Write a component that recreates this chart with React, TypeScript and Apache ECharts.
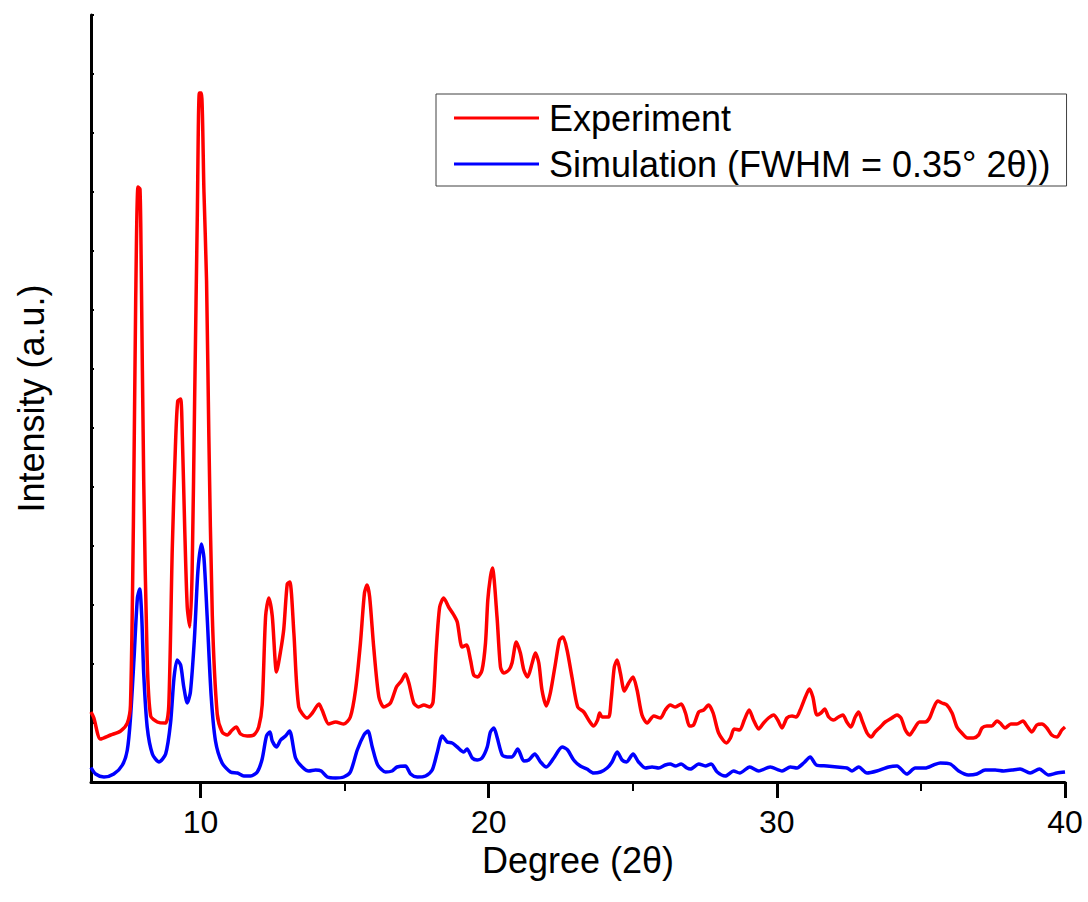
import React, { useEffect, useRef } from "react";
import * as echarts from "echarts";

const FONT = "'Liberation Sans', Arial, Helvetica, sans-serif";

const xMajorTicks = [10, 20, 30, 40];
const xMinorTicks = [15, 25, 35];
const legendNames = ["Experiment", "Simulation (FWHM = 0.35° 2θ))"];

// [2θ (deg), intensity (a.u.)]
const experiment = [
  [6.2, 70], [6.3, 64], [6.53, 43], [6.88, 47], [7.23, 51], [7.46, 59], [7.57, 77], [7.67, 256], [7.75, 479], [7.83, 595],
  [7.9, 593], [7.94, 523], [8.03, 300], [8.15, 122], [8.27, 66], [8.5, 60], [8.79, 59], [8.9, 77], [9.02, 233], [9.13, 336],
  [9.21, 381], [9.31, 383], [9.37, 345], [9.45, 256], [9.54, 175], [9.63, 155], [9.71, 211], [9.8, 390], [9.89, 568], [9.96, 689],
  [10.03, 689], [10.12, 590], [10.21, 501], [10.29, 345], [10.41, 166], [10.58, 68], [10.75, 50], [10.93, 47], [11.1, 52], [11.24, 55],
  [11.39, 48], [11.62, 46], [11.85, 47], [12.02, 55], [12.14, 77], [12.26, 166], [12.37, 184], [12.49, 166], [12.64, 110], [12.78, 131],
  [12.89, 153], [13.01, 198], [13.1, 200], [13.24, 149], [13.41, 75], [13.7, 64], [13.88, 69], [14.11, 78], [14.22, 72], [14.45, 58],
  [14.69, 60], [14.97, 58], [15.2, 65], [15.38, 92], [15.55, 139], [15.69, 189], [15.78, 197], [15.87, 185], [16.01, 135], [16.19, 85],
  [16.36, 75], [16.59, 79], [16.8, 95], [16.97, 101], [17.11, 108], [17.23, 99], [17.4, 79], [17.57, 75], [17.75, 77], [17.96, 75],
  [18.07, 80], [18.18, 132], [18.3, 175], [18.44, 184], [18.61, 175], [18.79, 167], [18.91, 160], [19.08, 135], [19.23, 137], [19.37, 122],
  [19.48, 107], [19.62, 105], [19.77, 112], [19.89, 139], [19.97, 182], [20.06, 205], [20.13, 214], [20.29, 165], [20.41, 115], [20.52, 109],
  [20.7, 112], [20.81, 119], [20.96, 140], [21.1, 129], [21.22, 112], [21.35, 105], [21.51, 119], [21.62, 129], [21.74, 119], [21.85, 92],
  [22.0, 76], [22.14, 89], [22.32, 119], [22.46, 142], [22.58, 145], [22.72, 132], [22.89, 105], [23.09, 75], [23.3, 70], [23.47, 62],
  [23.64, 56], [23.78, 62], [23.85, 69], [23.94, 65], [24.16, 65], [24.25, 82], [24.36, 115], [24.46, 122], [24.57, 109], [24.71, 91],
  [24.86, 99], [25.01, 105], [25.15, 92], [25.32, 67], [25.5, 59], [25.73, 66], [25.96, 64], [26.13, 72], [26.3, 77], [26.48, 75],
  [26.68, 78], [26.83, 69], [26.97, 56], [27.11, 57], [27.29, 70], [27.46, 72], [27.63, 77], [27.79, 69], [27.98, 49], [28.25, 39],
  [28.39, 44], [28.52, 53], [28.71, 52], [28.87, 62], [29.04, 72], [29.19, 62], [29.37, 53], [29.54, 59], [29.71, 64], [29.89, 67],
  [30.03, 62], [30.18, 54], [30.35, 64], [30.53, 66], [30.68, 65], [30.81, 72], [30.99, 85], [31.13, 93], [31.25, 85], [31.39, 67],
  [31.53, 69], [31.66, 73], [31.8, 65], [31.97, 62], [32.14, 65], [32.29, 67], [32.43, 60], [32.57, 55], [32.72, 65], [32.84, 70],
  [32.95, 62], [33.13, 49], [33.27, 45], [33.41, 50], [33.59, 55], [33.76, 60], [33.99, 64], [34.17, 67], [34.31, 64], [34.46, 52],
  [34.61, 47], [34.74, 52], [34.95, 60], [35.15, 60], [35.3, 64], [35.44, 74], [35.58, 81], [35.73, 79], [35.9, 77], [36.08, 69],
  [36.25, 55], [36.42, 49], [36.62, 44], [36.82, 44], [37.0, 47], [37.12, 54], [37.29, 56], [37.46, 56], [37.64, 61], [37.75, 59],
  [37.92, 54], [38.12, 58], [38.33, 58], [38.54, 61], [38.68, 56], [38.85, 50], [39.02, 57], [39.2, 58], [39.37, 54], [39.54, 47],
  [39.72, 45], [39.89, 52], [40.0, 55],
];

const simulation = [
  [6.2, 14.5], [6.36, 8], [6.65, 5], [6.99, 8], [7.29, 17], [7.46, 32], [7.57, 64], [7.69, 122], [7.81, 184], [7.89, 193],
  [7.96, 166], [8.03, 108], [8.15, 55], [8.33, 28], [8.56, 20], [8.79, 28], [8.96, 59], [9.08, 104], [9.19, 122], [9.31, 117],
  [9.42, 95], [9.54, 79], [9.65, 90], [9.79, 144], [9.91, 211], [10.03, 238], [10.12, 224], [10.23, 166], [10.37, 86], [10.52, 41],
  [10.75, 19], [11.04, 10], [11.28, 9], [11.5, 6], [11.74, 6], [11.97, 10], [12.14, 23], [12.29, 46], [12.41, 50], [12.49, 41],
  [12.64, 35], [12.78, 42], [12.95, 46], [13.09, 51], [13.3, 24], [13.53, 15], [13.76, 11], [13.99, 12], [14.19, 11], [14.4, 5],
  [14.69, 4], [14.97, 5], [15.2, 10], [15.44, 32], [15.67, 47], [15.81, 51], [15.96, 35], [16.15, 17], [16.42, 10], [16.65, 11],
  [16.82, 15], [17.11, 16], [17.29, 8], [17.52, 5], [17.81, 6], [18.04, 12], [18.21, 29], [18.39, 46], [18.56, 40], [18.73, 39],
  [18.91, 35], [19.13, 30], [19.25, 33], [19.43, 24], [19.6, 22], [19.77, 24], [19.95, 35], [20.06, 50], [20.18, 54], [20.29, 45],
  [20.47, 27], [20.64, 25], [20.81, 25], [21.01, 33], [21.22, 21], [21.39, 22], [21.6, 28], [21.8, 20], [22.0, 15], [22.26, 24],
  [22.55, 35], [22.74, 32], [22.95, 22], [23.18, 16], [23.41, 13], [23.64, 9], [23.88, 10], [24.11, 14], [24.28, 20], [24.46, 30],
  [24.63, 22], [24.78, 20], [25.01, 28], [25.2, 20], [25.44, 14], [25.67, 15], [25.9, 14], [26.13, 17], [26.3, 18], [26.48, 16],
  [26.68, 18], [26.88, 14], [27.0, 13], [27.29, 18], [27.52, 16], [27.72, 18], [27.93, 10], [28.21, 6], [28.5, 11], [28.71, 9],
  [29.06, 15], [29.37, 11], [29.77, 15], [30.18, 11], [30.47, 15], [30.7, 14], [30.93, 19], [31.16, 25], [31.37, 17], [31.74, 16],
  [32.09, 15], [32.43, 14], [32.61, 11], [32.84, 15], [33.13, 9], [33.47, 11], [33.88, 15], [34.17, 16], [34.51, 8], [34.8, 14],
  [35.15, 14], [35.44, 17], [35.67, 19], [36.02, 18], [36.31, 11], [36.65, 7], [36.94, 8], [37.23, 12], [37.58, 12], [37.87, 11],
  [38.16, 12], [38.44, 13], [38.79, 9], [39.11, 13], [39.43, 7], [39.72, 9], [40.0, 10],
];

export default function App() {
  const ref = useRef<HTMLDivElement>(null);

  useEffect(() => {
    if (!ref.current) return;
    const chart = echarts.init(ref.current, null, { renderer: "svg" });
    chart.setOption({
      animation: false,
      backgroundColor: "#ffffff",
      textStyle: { fontFamily: FONT, color: "#000" },
      grid: { left: 91, right: 23, top: 15, bottom: 120, containLabel: false },
      legend: {
        orient: "vertical",
        left: 436,
        top: 94,
        data: legendNames,
        icon: "rect",
        borderColor: "#404040",
        borderWidth: 1,
        padding: [4, 16, 2, 18],
        itemWidth: 85,
        itemHeight: 3,
        itemGap: 6,
        selectedMode: false,
        textStyle: { fontSize: 36, fontFamily: FONT, color: "#000", lineHeight: 40, padding: [0, 0, 0, 5] },
      },
      xAxis: [
        {
          type: "value",
          min: 6.2,
          max: 40,
          axisLine: { show: true, lineStyle: { color: "#000", width: 3 } },
          axisTick: { show: true, customValues: xMajorTicks, length: 16, lineStyle: { color: "#000", width: 3 } },
          axisLabel: { show: true, customValues: xMajorTicks, fontSize: 32, color: "#000", fontFamily: FONT, margin: 24 },
          splitLine: { show: false },
          name: "Degree (2θ)",
          nameLocation: "middle",
          nameGap: 51,
          nameTextStyle: { fontSize: 36, color: "#000", fontFamily: FONT },
        },
        {
          type: "value",
          min: 6.2,
          max: 40,
          position: "bottom",
          axisLine: { show: false },
          axisTick: { show: true, customValues: xMinorTicks, length: 9, lineStyle: { color: "#000", width: 2 } },
          axisLabel: { show: false },
          splitLine: { show: false },
        },
      ],
      yAxis: {
        type: "value",
        min: 0,
        max: 767,
        interval: 59,
        axisLine: { show: true, lineStyle: { color: "#000", width: 3 } },
        axisTick: { show: true, inside: true, length: 3, lineStyle: { color: "#000", width: 2 } },
        axisLabel: { show: false },
        splitLine: { show: false },
        name: "Intensity (a.u.)",
        nameLocation: "middle",
        nameGap: 42,
        nameTextStyle: { fontSize: 36, color: "#000", fontFamily: FONT },
      },
      series: [
        {
          name: legendNames[0],
          type: "line",
          data: experiment,
          showSymbol: false,
          symbol: "none",
          smooth: 0.25,
          lineStyle: { color: "#ff0000", width: 3.5 },
          itemStyle: { color: "#ff0000" },
          z: 3,
        },
        {
          name: legendNames[1],
          type: "line",
          data: simulation,
          showSymbol: false,
          symbol: "none",
          smooth: 0.25,
          lineStyle: { color: "#0000ff", width: 3.5 },
          itemStyle: { color: "#0000ff" },
          z: 2,
        },
      ],
    });
    return () => chart.dispose();
  }, []);

  return (
    <div
      ref={ref}
      style={{ position: "fixed", left: 0, top: 0, width: 1088, height: 902, background: "#fff" }}
    />
  );
}
